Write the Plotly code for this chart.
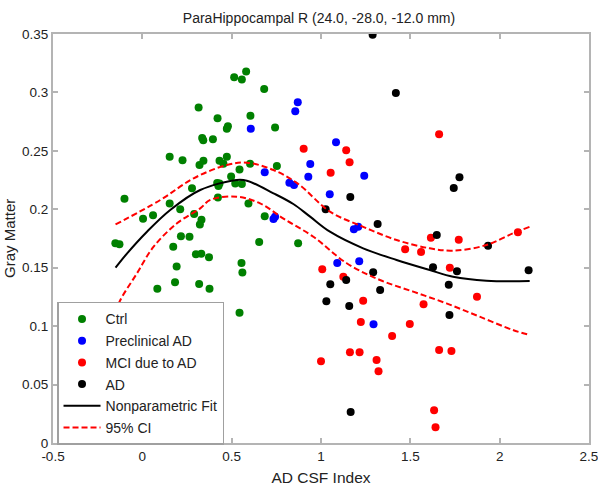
import plotly.graph_objects as go

# ---- data ----
ctrl_x = [0.581, 0.514, 0.557, 0.682, 0.315, 0.605, 0.421, 0.473, 0.479, 0.743,
          0.335, 0.341, 0.395, 0.153, 0.225, 0.342, 0.320, 0.432, 0.473, 0.454,
          0.603, 0.753, 0.544, 0.497, 0.419, 0.426, 0.432, 0.520, 0.557, 0.278,
          -0.100, 0.423, 0.153, 0.212, 0.594, 0.004, 0.060, 0.290, 0.331, 0.322,
          0.685, 0.216, 0.264, -0.151, -0.128, 0.173, 0.654, 0.872, 0.300, 0.330,
          0.373, 0.192, 0.555, 0.560, 0.183, 0.084, 0.318, 0.376, 0.544]
ctrl_y = [0.318, 0.313, 0.311, 0.303, 0.287, 0.280, 0.278, 0.269, 0.271, 0.270,
          0.261, 0.259, 0.260, 0.245, 0.242, 0.2416, 0.238, 0.2416, 0.245, 0.239,
          0.239, 0.237, 0.234, 0.228, 0.2225, 0.220, 0.222, 0.222, 0.2216, 0.218,
          0.209, 0.210, 0.205, 0.200, 0.205, 0.192, 0.195, 0.196, 0.191, 0.187,
          0.194, 0.177, 0.1765, 0.171, 0.170, 0.168, 0.172, 0.171, 0.1615, 0.162,
          0.159, 0.151, 0.154, 0.146, 0.1375, 0.132, 0.136, 0.132, 0.1115]

precl_x = [0.870, 0.856, 0.607, 0.685, 0.823, 0.849, 0.743, 0.734, 0.940, 0.929,
           1.084, 1.242, 1.049, 1.184, 1.208, 1.091, 1.214, 1.294]
precl_y = [0.2915, 0.284, 0.269, 0.2316, 0.2227, 0.2208, 0.1937, 0.1917, 0.2387, 0.2279,
           0.2573, 0.2287, 0.2128, 0.1829, 0.1851, 0.154, 0.1555, 0.1016]

mci_x = [0.903, 1.661, 1.141, 1.160, 1.054, 1.615, 1.771, 2.102, 1.471, 1.560,
         1.721, 1.007, 1.125, 1.873, 1.236, 1.574, 1.223, 1.497, 1.398, 1.661,
         1.730, 1.162, 1.216, 1.000, 1.311, 1.322, 1.633, 1.641]
mci_y = [0.2518, 0.2642, 0.2505, 0.2402, 0.2313, 0.1757, 0.174, 0.1803, 0.1658, 0.1634,
         0.150, 0.1486, 0.1423, 0.1252, 0.1218, 0.1187, 0.1035, 0.1018, 0.0916, 0.0796,
         0.0787, 0.0776, 0.0776, 0.0699, 0.0710, 0.0614, 0.028, 0.0134]

ad_x = [1.289, 1.419, 1.775, 1.743, 1.164, 1.026, 1.317, 1.648, 1.935, 1.627,
        1.761, 2.162, 1.292, 1.141, 1.052, 1.715, 1.331, 1.030, 1.158, 1.719, 1.166]
ad_y = [0.3494, 0.2995, 0.2274, 0.2182, 0.2105, 0.200, 0.1874, 0.178, 0.1688, 0.1504,
        0.1469, 0.1478, 0.1461, 0.1395, 0.1358, 0.1355, 0.1309, 0.1213, 0.1172, 0.1095, 0.0265]

fit_x = [-0.15, -0.085, 0.026, 0.156, 0.324, 0.529, 0.585, 0.734, 0.845, 0.939,
         1.050, 1.236, 1.423, 1.609, 1.739, 1.926, 2.168]
fit_y = [0.150, 0.1623, 0.1808, 0.1994, 0.2165, 0.2251, 0.2245, 0.2137, 0.2045, 0.1937,
         0.1808, 0.1666, 0.1566, 0.1480, 0.1423, 0.1389, 0.1386]

ci_up_x = [-0.15, 0.101, 0.287, 0.473, 0.585, 0.734, 0.870, 1.050, 1.236, 1.423,
           1.609, 1.739, 1.926, 2.074, 2.168]
ci_up_y = [0.187, 0.208, 0.2265, 0.2379, 0.2399, 0.2336, 0.222, 0.198, 0.185, 0.1737,
           0.1666, 0.1646, 0.1694, 0.1794, 0.185]

ci_lo_x = [-0.15, -0.123, -0.030, 0.063, 0.194, 0.324, 0.380, 0.529, 0.659, 0.790,
           0.957, 1.144, 1.330, 1.516, 1.702, 1.888, 2.074, 2.168]
ci_lo_y = [0.112, 0.1224, 0.1452, 0.168, 0.188, 0.2008, 0.208, 0.2108, 0.2051, 0.192,
           0.1765, 0.1538, 0.1395, 0.1295, 0.1195, 0.1081, 0.0967, 0.0924]

x_ticks = [-0.5, 0, 0.5, 1, 1.5, 2, 2.5]
x_tick_labels = ["-0.5", "0", "0.5", "1", "1.5", "2", "2.5"]
y_ticks = [0, 0.05, 0.1, 0.15, 0.2, 0.25, 0.3, 0.35]
y_tick_labels = ["0", "0.05", "0.1", "0.15", "0.2", "0.25", "0.3", "0.35"]

FONT = "Liberation Sans, Arial, sans-serif"
AXC = "#b4b4b4"

fig = go.Figure()
msize = 8
groups = [("Ctrl", ctrl_x, ctrl_y, "#008000"),
          ("Preclinical AD", precl_x, precl_y, "#0000ff"),
          ("MCI due to AD", mci_x, mci_y, "#ff0000"),
          ("AD", ad_x, ad_y, "#000000")]
for i, (name, xs, ys, col) in enumerate(groups):
    fig.add_trace(go.Scatter(x=xs, y=ys, mode="markers", name=name, legendgroup=f"g{i}",
                             marker=dict(color=col, size=msize, line=dict(width=0))))

fig.add_trace(go.Scatter(x=fit_x, y=fit_y, mode="lines", name="Nonparametric Fit",
                         legendgroup="fit",
                         line=dict(color="black", width=2, shape="spline", smoothing=1.0)))
fig.add_trace(go.Scatter(x=ci_up_x, y=ci_up_y, mode="lines", name="95% CI",
                         legendgroup="ci",
                         line=dict(color="#ff0000", width=2, dash="6px,3px", shape="spline")))
fig.add_trace(go.Scatter(x=ci_lo_x, y=ci_lo_y, mode="lines", name="95% CI",
                         legendgroup="ci", showlegend=False,
                         line=dict(color="#ff0000", width=2, dash="6px,3px", shape="spline")))

axis_common = dict(showgrid=False, zeroline=False, showline=True, linecolor=AXC,
                   linewidth=2, mirror="ticks", ticks="inside", ticklen=5,
                   tickcolor=AXC, tickwidth=1.5, automargin=False,
                   ticklabeloverflow="allow",
                   tickfont=dict(family=FONT, size=13.5, color="#222222"))

fig.update_layout(
    width=598, height=488,
    margin=dict(l=53, r=9, t=34, b=45),
    paper_bgcolor="white", plot_bgcolor="white",
    title=dict(text="ParaHippocampal R (24.0, -28.0, -12.0 mm)",
               font=dict(family=FONT, size=14, color="#222222"),
               x=(319 / 598), xanchor="center", y=1 - 18 / 488, yanchor="middle"),
    xaxis=dict(range=[-0.5, 2.5], tickvals=x_ticks, ticktext=x_tick_labels,
               title=dict(text="AD CSF Index", font=dict(family=FONT, size=15.5, color="#222222"),
                          standoff=9),
               **axis_common),
    yaxis=dict(range=[0, 0.35], tickvals=y_ticks, ticktext=y_tick_labels, **axis_common),
    legend=dict(x=0.0075, y=0.345, xanchor="left", yanchor="top",
                bgcolor="white", bordercolor="#a0a0a0", borderwidth=1.5,
                font=dict(family=FONT, size=14, color="#222222"),
                traceorder="grouped", tracegroupgap=0.5, itemwidth=37),
    showlegend=True,
)

fig.add_annotation(text="Gray Matter", textangle=-90, xref="paper", yref="paper",
                   x=(10 - 53) / 536, y=0.499, xanchor="center", yanchor="middle",
                   borderpad=0, showarrow=False,
                   font=dict(family=FONT, size=15, color="#222222"))

fig.write_html("out.html", config={"displayModeBar": False},
               post_script="document.body.style.margin='0';document.body.style.overflow='hidden';")
